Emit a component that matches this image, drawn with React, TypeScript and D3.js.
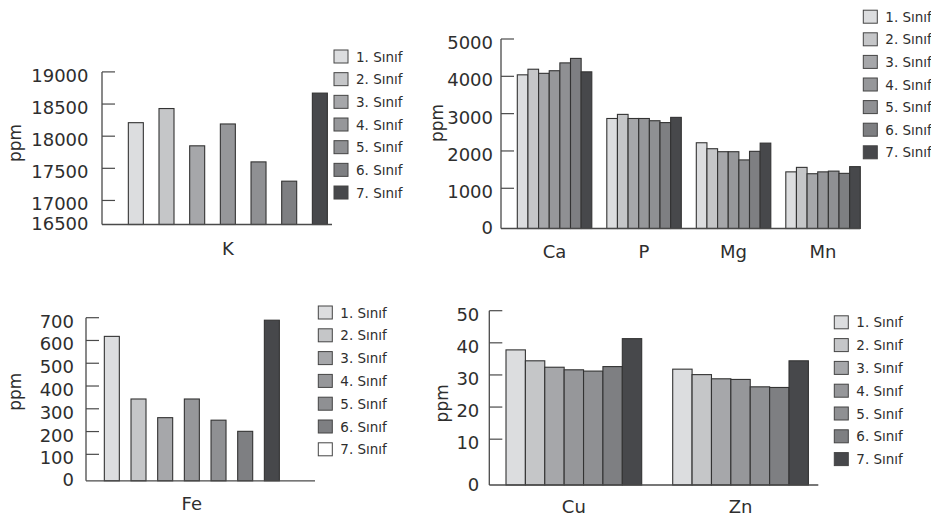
import React from "react";
import * as d3 from "d3";

const classes = ["1. Sınıf", "2. Sınıf", "3. Sınıf", "4. Sınıf", "5. Sınıf", "6. Sınıf", "7. Sınıf"];
const classColors = ["#dcdddf", "#c5c6c8", "#a6a7aa", "#96979a", "#8f9093", "#7e7f82", "#47484b"];
const feLegendColors = ["#dcdddf", "#c5c6c8", "#a6a7aa", "#96979a", "#8f9093", "#7e7f82", "#ffffff"];

// Panel 1: K
const kGroups = ["K"];
const kValues = [18210, 18430, 17850, 18190, 17600, 17300, 18670];
const kTicks = [16500, 17000, 17500, 18000, 18500, 19000];

// Panel 2: Ca, P, Mg, Mn
const macroGroups = ["Ca", "P", "Mg", "Mn"];
const caValues = [4040, 4190, 4080, 4150, 4360, 4480, 4120];
const pValues = [2870, 2980, 2870, 2870, 2810, 2760, 2900];
const mgValues = [2220, 2060, 1980, 1980, 1760, 1990, 2210];
const mnValues = [1440, 1560, 1390, 1440, 1460, 1400, 1580];
const macroTicks = [0, 1000, 2000, 3000, 4000, 5000];

// Panel 3: Fe
const feGroups = ["Fe"];
const feValues = [618, 343, 261, 343, 250, 201, 689];
const feTicks = [0, 100, 200, 300, 400, 500, 600, 700];

// Panel 4: Cu, Zn
const microGroups = ["Cu", "Zn"];
const cuValues = [37.8, 34.4, 32.4, 31.6, 31.2, 32.6, 41.3];
const znValues = [31.8, 30.1, 28.8, 28.6, 26.3, 26.1, 34.4];
const microTicks = [0, 10, 20, 30, 40, 50];

const FONT = "'DejaVu Sans', sans-serif";
const TEXT = "#2e2e2e";
const AXIS = "#4a4a4a";

type PanelCfg = {
  groups: string[];
  values: number[][];
  ticks: number[];
  axisX: number;
  axisRight: number;
  yMinPx: number;
  yMaxPx: number;
  baseline: number;
  labelGap: number;
  groupRange: [number, number];
  groupPadInner: number;
  groupPadOuter: number;
  barPadInner: number;
  barPadOuter: number;
  catY: number;
  ppmX: number;
  ppmY: number;
  legendX: number;
  legendY0: number;
  legendStep: number;
  legendColors: string[];
};

function Panel({ cfg }: { cfg: PanelCfg }) {
  const y = d3
    .scaleLinear()
    .domain([cfg.ticks[0], cfg.ticks[cfg.ticks.length - 1]])
    .range([cfg.yMinPx, cfg.yMaxPx]);
  const xg = d3
    .scaleBand<string>()
    .domain(cfg.groups)
    .range(cfg.groupRange)
    .paddingInner(cfg.groupPadInner)
    .paddingOuter(cfg.groupPadOuter);
  const xb = d3
    .scaleBand<string>()
    .domain(classes)
    .range([0, xg.bandwidth()])
    .paddingInner(cfg.barPadInner)
    .paddingOuter(cfg.barPadOuter);
  const top = y(cfg.ticks[cfg.ticks.length - 1]);
  return (
    <g>
      {cfg.groups.map((g, gi) => (
        <g key={g}>
          {cfg.values[gi].map((v, i) => {
            const x0 = (xg(g) as number) + (xb(classes[i]) as number);
            const yt = y(v);
            return (
              <rect
                key={i}
                x={x0}
                y={yt}
                width={xb.bandwidth()}
                height={cfg.baseline - yt}
                fill={classColors[i]}
                stroke="#333"
                strokeWidth={1.1}
              />
            );
          })}
          <text
            x={(xg(g) as number) + xg.bandwidth() / 2}
            y={cfg.catY}
            textAnchor="middle"
            dominantBaseline="central"
            fontFamily={FONT}
            fontSize={18}
            fill={TEXT}
          >
            {g}
          </text>
        </g>
      ))}
      {/* axes */}
      <line x1={cfg.axisX} x2={cfg.axisX} y1={top} y2={cfg.baseline} stroke={AXIS} strokeWidth={1.3} />
      <line x1={cfg.axisX} x2={cfg.axisRight} y1={cfg.baseline} y2={cfg.baseline} stroke={AXIS} strokeWidth={1.3} />
      {cfg.ticks.map((t, i) => {
        const isMin = i === 0;
        const ty = y(t);
        return (
          <g key={t}>
            {!isMin && (
              <line x1={cfg.axisX} x2={cfg.axisX + 13} y1={ty} y2={ty} stroke={AXIS} strokeWidth={1.2} />
            )}
            <text
              x={cfg.axisX - cfg.labelGap}
              y={isMin ? cfg.baseline - 1 : ty + 3.5}
              textAnchor="end"
              dominantBaseline="central"
              fontFamily={FONT}
              fontSize={18}
              fill={TEXT}
            >
              {t}
            </text>
          </g>
        );
      })}
      <text
        transform={`translate(${cfg.ppmX},${cfg.ppmY}) rotate(-90)`}
        textAnchor="middle"
        dominantBaseline="central"
        fontFamily={FONT}
        fontSize={17}
        fill={TEXT}
      >
        ppm
      </text>
      {classes.map((c, i) => {
        const cy = cfg.legendY0 + i * cfg.legendStep;
        return (
          <g key={c}>
            <rect
              x={cfg.legendX}
              y={cy - 6.5}
              width={14}
              height={13}
              fill={cfg.legendColors[i]}
              stroke="#444"
              strokeWidth={1}
            />
            <text
              x={cfg.legendX + 22}
              y={cy}
              dominantBaseline="central"
              fontFamily={FONT}
              fontSize={13.5}
              fill={TEXT}
            >
              {c}
            </text>
          </g>
        );
      })}
    </g>
  );
}

const panelK: PanelCfg = {
  groups: kGroups,
  values: [kValues],
  ticks: kTicks,
  axisX: 102,
  axisRight: 332,
  yMinPx: 232.6,
  yMaxPx: 71.9,
  baseline: 224.5,
  labelGap: 13.5,
  groupRange: [120.5, 335.2],
  groupPadInner: 0,
  groupPadOuter: 0,
  barPadInner: 0.511,
  barPadOuter: 0.2555,
  catY: 248,
  ppmX: 15,
  ppmY: 143,
  legendX: 334,
  legendY0: 56.5,
  legendStep: 22.67,
  legendColors: classColors,
};

const panelMacro: PanelCfg = {
  groups: macroGroups,
  values: [caValues, pValues, mgValues, mnValues],
  ticks: macroTicks,
  axisX: 501,
  axisRight: 860,
  yMinPx: 225.6,
  yMaxPx: 39,
  baseline: 228.5,
  labelGap: 8,
  groupRange: [509.8, 867.8],
  groupPadInner: 0.1676,
  groupPadOuter: 0.0838,
  barPadInner: 0,
  barPadOuter: 0,
  catY: 251.7,
  ppmX: 437,
  ppmY: 123,
  legendX: 863.3,
  legendY0: 16.7,
  legendStep: 22.6,
  legendColors: classColors,
};

const panelFe: PanelCfg = {
  groups: feGroups,
  values: [feValues],
  ticks: feTicks,
  axisX: 86,
  axisRight: 315,
  yMinPx: 477.1,
  yMaxPx: 317.7,
  baseline: 480.8,
  labelGap: 12,
  groupRange: [98.5, 285.2],
  groupPadInner: 0,
  groupPadOuter: 0,
  barPadInner: 0.4375,
  barPadOuter: 0.21875,
  catY: 503.3,
  ppmX: 15,
  ppmY: 391.7,
  legendX: 318.3,
  legendY0: 312.5,
  legendStep: 22.8,
  legendColors: feLegendColors,
};

const panelMicro: PanelCfg = {
  groups: microGroups,
  values: [cuValues, znValues],
  ticks: microTicks,
  axisX: 489.3,
  axisRight: 818.3,
  yMinPx: 471.3,
  yMaxPx: 310.7,
  baseline: 485,
  labelGap: 10,
  groupRange: [490.5, 823.9],
  groupPadInner: 0.186,
  groupPadOuter: 0.093,
  barPadInner: 0,
  barPadOuter: 0,
  catY: 506.7,
  ppmX: 441.7,
  ppmY: 403.3,
  legendX: 834.3,
  legendY0: 322.3,
  legendStep: 22.8,
  legendColors: classColors,
};

export default function App() {
  return (
    <svg
      width={931}
      height={518}
      style={{ position: "fixed", left: 0, top: 0, background: "#fff", display: "block" }}
    >
      <rect x={0} y={0} width={931} height={518} fill="#fff" />
      <Panel cfg={panelK} />
      <Panel cfg={panelMacro} />
      <Panel cfg={panelFe} />
      <Panel cfg={panelMicro} />
    </svg>
  );
}
